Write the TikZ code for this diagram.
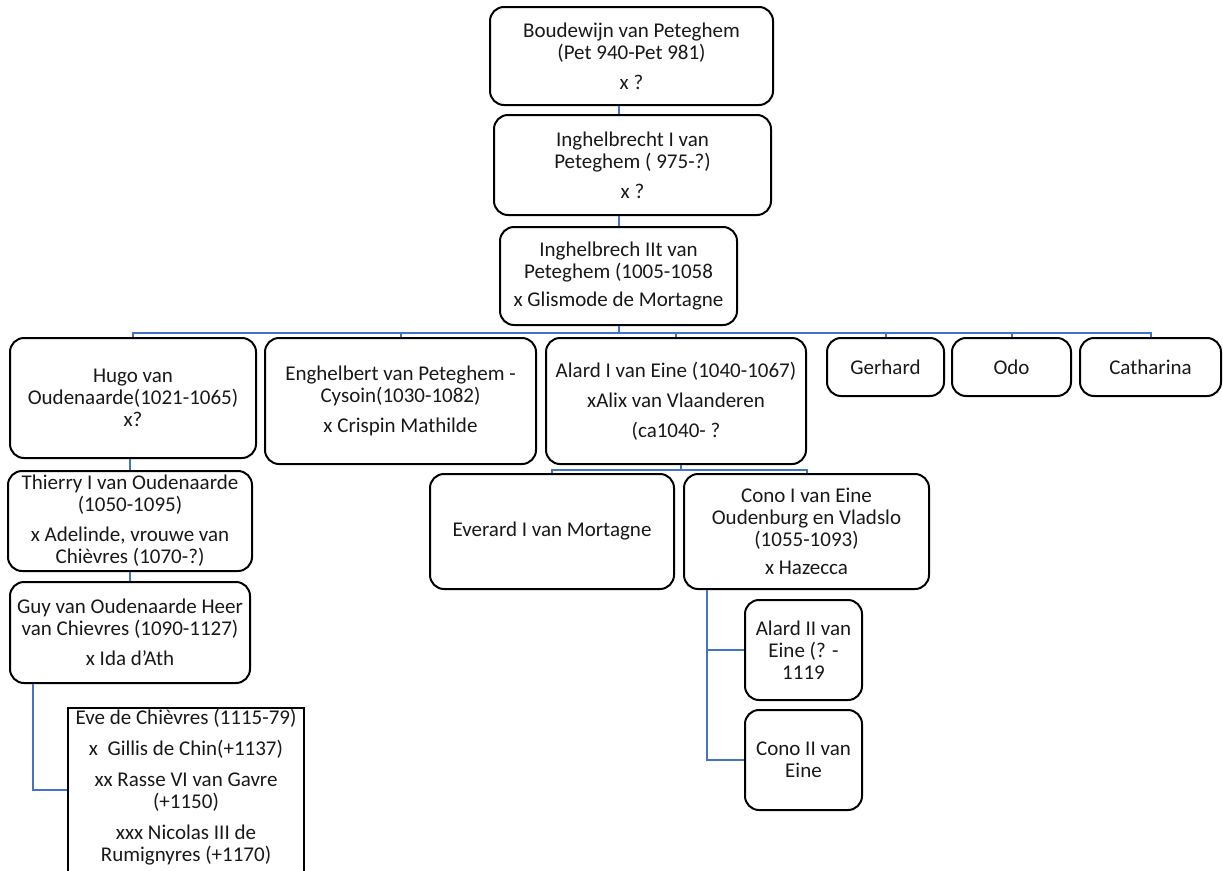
\documentclass[tikz,border=0pt]{standalone}
\usepackage{fontspec}
\setmainfont{Carlito}
\usepackage{xcolor}
\usetikzlibrary{positioning}
\definecolor{lijnblauw}{HTML}{4472C4}
\tikzset{
    persoon/.style={draw=black, line width=2pt, rounded corners=14pt, align=center, inner sep=2pt,
        font=\fontsize{21}{22}\selectfont, text=black!90},
    lijn/.style={draw=lijnblauw, line width=2pt},
}
\begin{document}
\begin{tikzpicture}[x=1pt, y=-1pt]
    \clip (0,0) rectangle (1223,870);
    \fill[white] (0,0) rectangle (1223,870);

    \node[persoon, minimum width=283pt, minimum height=98pt] (boudewijn) at (631.5,56) {Boudewijn van Peteghem\\(Pet 940-Pet 981)\\[8pt]x ?};
    \node[persoon, minimum width=277pt, minimum height=100pt] (ingh1) at (632.5,165) {Inghelbrecht I van\\Peteghem ( 975-?)\\[8pt]x ?};
    \node[persoon, minimum width=237pt, minimum height=98pt] (ingh2) at (618.5,276) {Inghelbrech IIt van\\Peteghem (1005-1058\\[6pt]x Glismode de Mortagne};

    \node[persoon, minimum width=246pt, minimum height=120pt] (hugo) at (133,398) {Hugo van\\Oudenaarde(1021-1065)\\x?};
    \node[persoon, minimum width=271pt, minimum height=126pt] (enghel) at (400.5,401) {Enghelbert van Peteghem -\\Cysoin(1030-1082)\\[8pt]x Crispin Mathilde};
    \node[persoon, minimum width=260pt, minimum height=126pt] (alard1) at (676,401) {Alard I van Eine (1040-1067)\\[8pt]xAlix van Vlaanderen\\[8pt](ca1040- ?};
    \node[persoon, minimum width=117pt, minimum height=58pt] (gerhard) at (885.5,367) {Gerhard};
    \node[persoon, minimum width=119pt, minimum height=58pt] (odo) at (1011.5,367) {Odo};
    \node[persoon, minimum width=141pt, minimum height=58pt] (catharina) at (1150.5,367) {Catharina};

    \node[persoon, minimum width=244pt, minimum height=100pt] (thierry) at (130,521) {Thierry I van Oudenaarde\\(1050-1095)\\[8pt]x Adelinde, vrouwe van\\Chièvres (1070-?)};
    \node[persoon, minimum width=240pt, minimum height=101pt] (guy) at (130,632.5) {Guy van Oudenaarde Heer\\van Chievres (1090-1127)\\[8pt]x Ida d'Ath};
    \node[persoon, rounded corners=0pt, minimum width=236pt, anchor=north, inner ysep=1pt] (eve) at (186,707) {Eve de Chièvres (1115-79)\\[9pt]x~~Gillis de Chin(+1137)\\[9pt]xx Rasse VI van Gavre\\(+1150)\\[9pt]xxx Nicolas III de\\Rumignyres (+1170)\\[8pt]~};

    \node[persoon, minimum width=244pt, minimum height=115pt] (everard) at (552,531.5) {Everard I van Mortagne};
    \node[persoon, minimum width=245pt, minimum height=115pt] (cono1) at (806.5,531.5) {Cono I van Eine\\Oudenburg en Vladslo\\(1055-1093)\\[6pt]x Hazecca};
    \node[persoon, minimum width=117pt, minimum height=100pt] (alard2) at (803.5,650) {Alard II van\\Eine (? -\\1119};
    \node[persoon, minimum width=117pt, minimum height=100pt] (cono2) at (803.5,760) {Cono II van\\Eine};

    \draw[lijn] (boudewijn.south -| ingh2.north) -- (ingh1.north -| ingh2.north);
    \draw[lijn] (ingh1.south -| ingh2.north) -- (ingh2.north);

    \coordinate (bus1) at (618.5,333);
    \foreach \kind in {hugo,enghel,alard1,gerhard,odo,catharina}
        \draw[lijn] (ingh2.south) -- (bus1) -| (\kind.north);

    \draw[lijn] (thierry.north) -- (thierry.north |- hugo.south);
    \draw[lijn] (guy.north) -- (guy.north |- thierry.south);
    \draw[lijn] ([xshift=24pt]guy.south west) |- ([yshift=-83pt]eve.north west);

    \coordinate (bus2) at (681,470);
    \draw[lijn] (bus2 |- alard1.south) -- (bus2) -| (everard.north);
    \draw[lijn] (bus2 |- alard1.south) -- (bus2) -| (cono1.north);

    \draw[lijn] ([xshift=24pt]cono1.south west) |- (alard2.west);
    \draw[lijn] ([xshift=24pt]cono1.south west) |- (cono2.west);
\end{tikzpicture}
\end{document}
